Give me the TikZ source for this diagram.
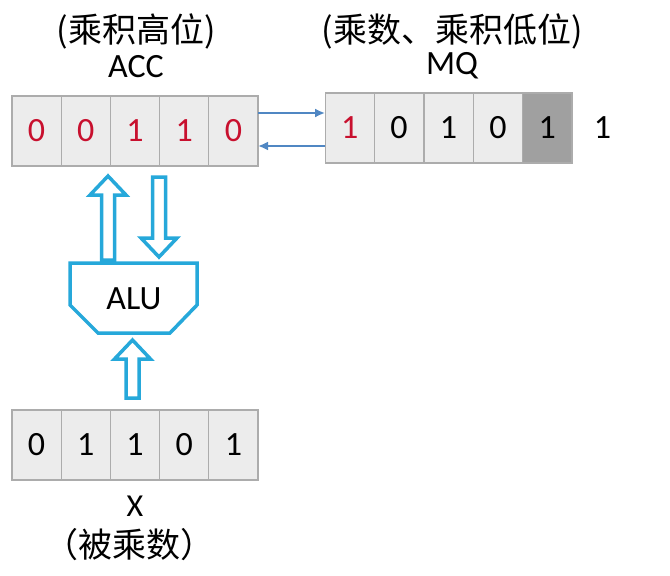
\documentclass[tikz,border=0pt]{standalone}
\usepackage{fontspec}
\setmainfont{Carlito}
\newfontfamily\cjk{Noto Sans CJK SC}
\usetikzlibrary{arrows.meta, positioning, calc}

\definecolor{cellgray}{RGB}{236,236,236}
\definecolor{cellline}{RGB}{172,172,172}
\definecolor{shiftgray}{RGB}{160,160,160}
\definecolor{bitred}{RGB}{200,16,46}
\definecolor{alucyan}{RGB}{38,168,218}
\definecolor{linkblue}{RGB}{80,135,195}

% hollow block arrow from tail #1 to tip #2
\newcommand{\blockarrow}[2]{%
  \coordinate (hb) at ($(#2)!19pt!(#1)$);
  \draw[fat] ($(#1)!6.5pt!90:(#2)$) -- ($(hb)!6.5pt!90:(#2)$)
    -- ($(hb)!18pt!90:(#2)$) -- (#2) -- ($(hb)!18pt!-90:(#2)$)
    -- ($(hb)!6.5pt!-90:(#2)$) -- ($(#1)!6.5pt!-90:(#2)$) -- cycle;
}

\begin{document}
\begin{tikzpicture}[
  x=1pt, y=-1pt,
  cell/.style={rectangle, draw=cellline, line width=1.2pt, fill=cellgray,
    minimum width=49.2pt, minimum height=70pt, inner sep=0pt, outer sep=0pt,
    font=\fontsize{34}{34}\selectfont},
  lbl/.style={inner sep=0pt, font=\fontsize{34}{34}\selectfont},
  cjklbl/.style={inner sep=0pt, font=\cjk\fontsize{34}{34}\selectfont},
  fat/.style={draw=alucyan, line width=3.5pt, fill=white, line join=miter},
  link/.style={-{Latex[length=10pt, width=9pt]}, draw=linkblue, line width=2.4pt}
]
\useasboundingbox (0,0) rectangle (670,576);

% ACC register
\foreach \b [count=\i] in {0,0,1,1,0}
  \node[cell, text=bitred] (acc\i) at ({12+49.2*(\i-0.5)},131) {\b};
\node[lbl] (acclbl) at (136,67) {ACC};
\node[cjklbl] (acchigh) at (136,31) {(乘积高位)};

% MQ register
\foreach \b/\c/\f [count=\i] in {1/bitred/cellgray, 0/black/cellgray,
    1/black/cellgray, 0/black/cellgray, 1/black/shiftgray}
  \node[cell, text=\c, fill=\f] (mq\i) at ({325+49.4*(\i-0.5)},128) {\b};
\node[cell, draw=none, fill=none, minimum width=0pt, right=22pt of mq5] (out) {1};
\node[lbl] (mqlbl) at (452,66) {MQ};
\node[cjklbl] (mqlow) at (452,31) {(乘数、乘积低位)};

% ACC <-> MQ
\coordinate (shr) at ($(acc5.east)+(0,-18)$);
\coordinate (shl) at ($(mq1.west)+(0,18)$);
\draw[link] (shr) -- (shr -| mq1.west);
\draw[link] (shl) -- (shl -| acc5.east);

% X register
\foreach \b [count=\i] in {0,1,1,0,1}
  \node[cell] (x\i) at ({12+49.2*(\i-0.5)},445) {\b};
\node[lbl, font=\fontsize{32}{32}\selectfont] (xlbl) at (135,506) {X};
\node[cjklbl] (xmul) at (130,545) {（被乘数）};

% ALU
\draw[fat] (70,263) -- (197,263) -- (197,305) -- (170,333) -- (98,333)
  -- (70,305) -- cycle;
\node[lbl] (alu) at (134,299) {ALU};

% data paths
\coordinate (sumtail) at (108,260);
\coordinate (sumtip) at (108,176);
\coordinate (acctail) at (159,177);
\coordinate (acctip) at (159,257);
\coordinate (xtail) at (132.5,398);
\coordinate (xtip) at (132.5,340);
\blockarrow{sumtail}{sumtip}
\blockarrow{acctail}{acctip}
\blockarrow{xtail}{xtip}
\end{tikzpicture}
\end{document}
